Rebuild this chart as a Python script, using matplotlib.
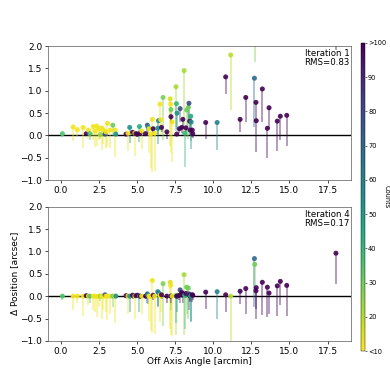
import numpy as np
import matplotlib
matplotlib.use("Agg")
import matplotlib.pyplot as plt
from matplotlib.colors import Normalize

# ---- data: one entry per source ----
off_axis = [0.09, 0.80, 1.07, 1.45, 1.66, 1.80, 1.90, 2.12, 2.25, 2.35, 2.50, 2.58, 2.67, 2.78,
            2.89, 2.95, 3.05, 3.23, 3.40, 3.55, 3.60, 4.27, 4.40, 4.51, 4.70, 4.85, 4.92, 5.02,
            5.15, 5.20, 5.30, 5.55, 5.67, 5.72, 5.78, 5.88, 6.00, 6.05, 6.15, 6.35, 6.40, 6.50,
            6.55, 6.60, 6.70, 6.95, 7.17, 7.20, 7.22, 7.22, 7.30, 7.55, 7.58, 7.62, 7.60, 7.77,
            7.82, 7.93, 8.00, 8.08, 8.12, 8.20, 8.25, 8.36, 8.40, 8.45, 8.48, 8.52, 8.55, 8.62,
            8.65, 9.50, 10.25, 10.81, 11.14, 11.76, 12.13, 12.70, 12.72, 12.80, 12.82, 13.22,
            13.55, 13.66, 14.20, 14.40, 14.82, 18.05]
counts = [35, 12, 12, 12, 100, 12, 35, 12, 12, 12, 12, 25, 12, 12,
          80, 12, 12, 12, 30, 12, 55, 100, 12, 55, 100, 12, 100, 100,
          45, 100, 12, 100, 75, 55, 12, 12, 12, 100, 12, 55, 60, 12,
          12, 100, 28, 100, 15, 12, 30, 100, 12, 22, 40, 55, 100, 100,
          80, 100, 100, 22, 40, 100, 30, 30, 80, 100, 100, 45, 55, 100,
          100, 100, 60, 100, 20, 100, 100, 70, 30, 100, 100, 100,
          100, 100, 100, 100, 100, 100]
err_low = [0.08, 0.32, 0.15, 0.45, 0.05, 0.20, 0.15, 0.30, 0.35, 0.45, 0.25, 0.10, 0.50, 0.30,
           0.05, 0.35, 0.53, 0.40, 0.25, 0.60, 0.05, 0.05, 0.40, 0.35, 0.08, 0.50, 0.05, 0.06,
           0.35, 0.06, 0.40, 0.06, 0.20, 0.20, 0.55, 0.75, 1.18, 0.10, 0.85, 0.35, 0.30, 0.60,
           0.35, 0.10, 0.95, 0.15, 1.05, 1.10, 0.30, 0.15, 0.90, 0.90, 0.60, 0.35, 0.05, 0.10,
           0.30, 0.12, 0.20, 1.35, 0.75, 0.10, 0.60, 0.70, 0.35, 0.15, 0.10, 0.55, 0.60, 0.15,
           0.10, 0.37, 0.62, 0.38, 1.22, 0.28, 0.56, 1.08, 0.65, 0.41, 0.70, 0.73,
           0.67, 0.47, 0.67, 0.53, 0.68, 0.68]
dpos_iter1 = [0.04, 0.19, 0.13, 0.18, 0.04, 0.12, 0.04, 0.20, 0.10, 0.21, 0.15, 0.02, 0.17, 0.12,
              0.03, 0.08, 0.27, 0.12, 0.23, 0.12, 0.03, 0.03, 0.05, 0.18, 0.07, 0.05, 0.04, 0.03,
              0.20, 0.05, 0.10, 0.04, 0.23, 0.18, 0.15, 0.03, 0.36, 0.15, 0.05, 0.16, 0.33, 0.70,
              0.35, 0.18, 0.85, 0.08, 0.82, 0.70, 0.58, 0.42, 0.30, 1.09, 0.71, 0.50, 0.03, 0.15,
              0.60, 0.18, 0.36, 1.45, 0.05, 0.17, 0.57, 0.63, 0.72, 0.32, 0.12, 0.43, 0.30, 0.12,
              0.04, 0.29, 0.29, 1.31, 1.80, 0.36, 0.85, 1.28, 2.30, 0.74, 0.33, 1.04,
              0.16, 0.62, 0.32, 0.43, 0.45, 2.60]
dpos_iter4 = [0.00, 0.00, 0.00, 0.00, 0.01, 0.00, 0.00, 0.00, 0.00, -0.01, 0.00, 0.00, 0.00, 0.00,
              0.03, 0.00, 0.00, 0.00, 0.00, 0.00, 0.00, 0.01, 0.00, 0.00, 0.02, 0.00, 0.01, 0.02,
              0.00, 0.00, 0.00, 0.00, 0.05, 0.02, 0.00, 0.00, 0.35, 0.02, 0.00, 0.10, 0.08, 0.02,
              0.00, 0.03, 0.28, 0.00, 0.31, 0.24, 0.00, 0.00, 0.00, 0.02, 0.00, 0.00, 0.00, 0.02,
              0.14, 0.08, 0.05, 0.48, 0.02, 0.06, 0.20, 0.18, 0.05, 0.03, 0.00, 0.00, 0.02, 0.03,
              0.02, 0.09, 0.10, 0.03, 0.00, 0.11, 0.17, 0.84, 0.71, 0.12, 0.19, 0.31,
              0.20, 0.07, 0.23, 0.33, 0.24, 0.96]
panel_labels = ["Iteration 1\nRMS=0.83", "Iteration 4\nRMS=0.17"]
cbar_ticks = [10, 20, 30, 40, 50, 60, 70, 80, 90, 100]
cbar_ticklabels = ["<10", "20", "30", "40", "50", "60", "70", "80", "90", ">100"]

plt.rcParams['font.family'] = ['DejaVu Sans']
plt.rcParams['font.size'] = 6.5

x = np.array(off_axis)
c = np.array(counts)
e = np.array(err_low)
cmap = plt.get_cmap('viridis_r')
norm = Normalize(vmin=10, vmax=100)

fig = plt.figure(figsize=(3.9, 3.9), dpi=100)
ax1 = fig.add_axes([0.124, 0.538, 0.776, 0.344])
ax2 = fig.add_axes([0.124, 0.126, 0.776, 0.344])
cax = fig.add_axes([0.926, 0.10, 0.009, 0.79])

sc = None
for ax, yvals, lab in zip([ax1, ax2], [dpos_iter1, dpos_iter4], panel_labels):
    y = np.array(yvals)
    ax.vlines(x, y - e, y, colors=cmap(norm(c)), alpha=0.5, lw=1.1, zorder=2)
    sc = ax.scatter(x, y, c=c, cmap=cmap, norm=norm, s=13, alpha=0.9,
                    edgecolors='none', zorder=3)
    ax.axhline(0, color='black', lw=1.0, zorder=1)
    ax.set_xlim(-0.83, 19.04)
    ax.set_ylim(-1.0, 2.0)
    ax.set_xticks(np.arange(0, 17.6, 2.5))
    ax.set_yticks(np.arange(-1.0, 2.01, 0.5))
    ax.tick_params(width=0.5, length=2.3, pad=2, labelsize=6.5)
    for s in ax.spines.values():
        s.set_linewidth(0.5)
        s.set_color('0.35')
    ax.text(0.995, 0.975, lab, transform=ax.transAxes, ha='right', va='top',
            fontsize=6.2, linespacing=0.95)

ax2.set_xlabel("Off Axis Angle [arcmin]", fontsize=6.5, labelpad=1)
ax2.set_ylabel("Δ Position [arcsec]", fontsize=6.5, labelpad=1)

cb = fig.colorbar(sc, cax=cax)
cb.solids.set_alpha(1)
cb.set_ticks(cbar_ticks)
cb.set_ticklabels(cbar_ticklabels)
cb.ax.tick_params(labelsize=4.8, width=0.4, length=1.5, pad=1)
cb.outline.set_linewidth(0.3)
cb.set_label("Counts", rotation=270, fontsize=4.8, labelpad=2)

fig.savefig("out.png", dpi=100)
